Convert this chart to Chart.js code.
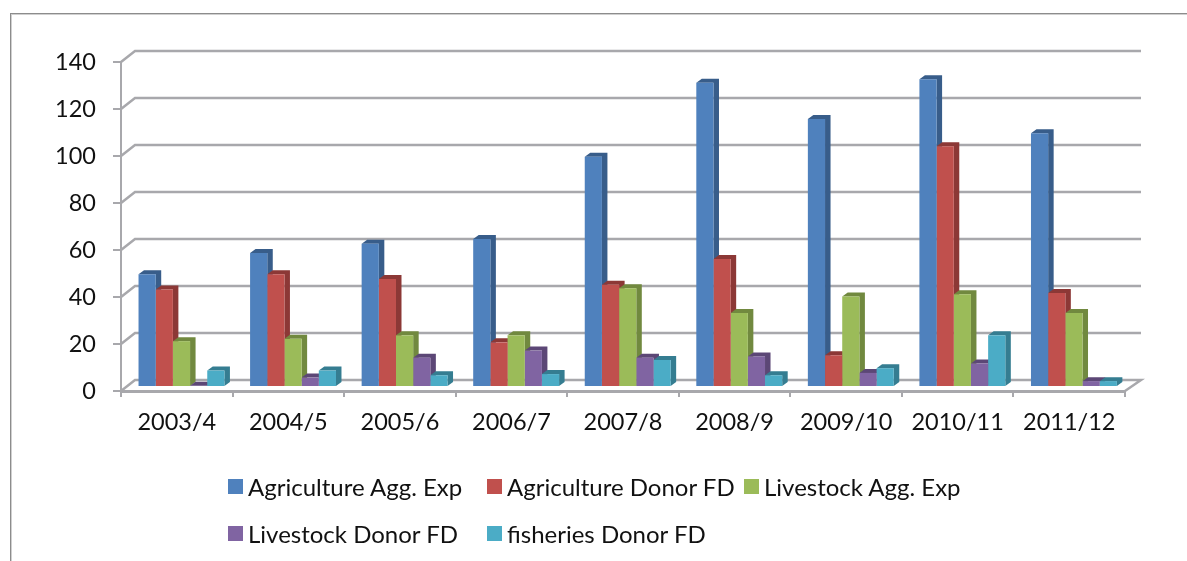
<!DOCTYPE html>
<html>
<head>
<meta charset="utf-8">
<title>Agriculture expenditure</title>
<script src="https://cdn.jsdelivr.net/npm/chart.js@4"></script>
<style>
  html, body { margin: 0; padding: 0; background: #fff; }
  #wrap { position: relative; width: 1187px; height: 561px; overflow: hidden; }
  #frame { position: absolute; left: 10px; top: 13px; right: -2px; bottom: -2px; border: 1px solid #8c8c8c; border-width: 1px 0 0 1px; box-shadow: inset 1px 1px 0 #d0d0d0; }
  canvas { position: absolute; left: 0; top: 0; }
  #legend { position: absolute; left: 228px; top: 463px; display: grid; grid-template-columns: 259px 257px 259px; grid-auto-rows: 47px; margin: 0; padding: 0; list-style: none;
    font: 24px Lato, sans-serif; color: #111; }
  #legend li { display: flex; align-items: center; white-space: nowrap; }
  #legend i { display: block; width: 15px; height: 15px; margin-right: 5px; }
</style>
</head>
<body>
<div id="wrap">
  <div id="frame"></div>
  <canvas id="chart" width="1187" height="561"></canvas>
  <ul id="legend"></ul>
</div>
<script>
const categories = ['2003/4', '2004/5', '2005/6', '2006/7', '2007/8', '2008/9', '2009/10', '2010/11', '2011/12'];
const seriesNames = ['Agriculture Agg. Exp', 'Agriculture Donor FD', 'Livestock Agg. Exp', 'Livestock Donor FD', 'fisheries Donor FD'];

const agricultureAgg = [48, 57, 61, 63, 98, 129.5, 114, 131, 108];
const agricultureDonor = [41.5, 48, 46, 19, 43.5, 54.5, 13.5, 102.5, 40];
const livestockAgg = [19.5, 20.5, 22, 22, 42, 31.5, 38.5, 39.5, 31.5];
const livestockDonor = [0.5, 4, 12.5, 15.5, 12.5, 13, 6, 10, 2.5];
const fisheriesDonor = [7, 7, 5, 5.5, 11.5, 5, 8, 22, 2.5];

const seriesValues = [agricultureAgg, agricultureDonor, livestockAgg, livestockDonor, fisheriesDonor];
const frontColors = ['#4f81bd', '#c0504d', '#9bbb59', '#8064a2', '#4bacc6'];
const sideColors = ['#385d8a', '#8c3836', '#71893f', '#5c4776', '#357d91'];

const axisColor = '#a8a8ac';
// how far the back wall sits from the front of the box
const wallLeft = 14, wallRight = 16, wallY = 11;
// bars stand a little inside the floor, and their own depth
const barShiftX = 4.7, barShiftY = 4;
const barDepthX = 5.5, barDepthY = 4;

// back wall lines and the floor, drawn from the y scale ticks
const wallPlugin = {
  id: 'wall',
  beforeDatasetsDraw(chart) {
    const { ctx, chartArea, scales } = chart;
    ctx.save();
    ctx.strokeStyle = axisColor;
    ctx.lineWidth = 2.5;
    scales.y.ticks.forEach(t => {
      const y = scales.y.getPixelForValue(t.value);
      ctx.beginPath();
      ctx.moveTo(chartArea.left, y);
      ctx.lineTo(chartArea.left + wallLeft, y - wallY);
      ctx.lineTo(chartArea.right + wallRight, y - wallY);
      if (t.value === 0) ctx.lineTo(chartArea.right, y);
      ctx.stroke();
    });
    ctx.restore();
  }
};

// fake 3D: all side and top faces go down first, left series first,
// then the library draws the fronts on top of them
const bar3dPlugin = {
  id: 'bar3d',
  beforeDatasetsDraw(chart) {
    const { ctx } = chart;
    ctx.save();
    ctx.translate(barShiftX, -barShiftY);
    seriesNames.forEach((name, i) => {
      ctx.fillStyle = sideColors[i];
      chart.getDatasetMeta(i).data.forEach(bar => {
        const { x, y, base, width } = bar.getProps(['x', 'y', 'base', 'width']);
        const l = x - width / 2, r = x + width / 2;
        ctx.beginPath();
        ctx.moveTo(l, y);
        ctx.lineTo(l + barDepthX, y - barDepthY);
        ctx.lineTo(r + barDepthX, y - barDepthY);
        ctx.lineTo(r + barDepthX, base - barDepthY);
        ctx.lineTo(r, base);
        ctx.lineTo(r, y);
        ctx.closePath();
        ctx.fill();
      });
    });
    ctx.restore();
  },
  beforeDatasetDraw(chart) {
    chart.ctx.save();
    chart.ctx.translate(barShiftX, -barShiftY);
  },
  afterDatasetDraw(chart) {
    chart.ctx.restore();
  }
};

// legend sits in fixed columns, which the built-in one can't do
const htmlLegendPlugin = {
  id: 'htmlLegend',
  afterUpdate(chart) {
    const ul = document.getElementById('legend');
    ul.innerHTML = '';
    chart.options.plugins.legend.labels.generateLabels(chart).forEach(item => {
      const li = document.createElement('li');
      const box = document.createElement('i');
      box.style.background = item.fillStyle;
      li.appendChild(box);
      li.appendChild(document.createTextNode(item.text));
      ul.appendChild(li);
    });
  }
};

new Chart(document.getElementById('chart'), {
  type: 'bar',
  data: {
    labels: categories,
    datasets: seriesNames.map((name, i) => ({
      label: name,
      data: seriesValues[i],
      backgroundColor: frontColors[i],
      clip: false,
      categoryPercentage: 0.77,
      barPercentage: 1
    }))
  },
  options: {
    responsive: false,
    animation: false,
    layout: { padding: { left: 0, right: 62, top: 62, bottom: 0 } },
    plugins: {
      legend: { display: false },
      tooltip: { enabled: false }
    },
    scales: {
      x: {
        afterFit(scale) { scale.height = 170; },
        grid: { drawOnChartArea: false, color: axisColor, lineWidth: 2, tickLength: 6 },
        border: { color: axisColor, width: 3 },
        ticks: { color: '#111', font: { family: 'Lato', size: 23.5 }, padding: 11, maxRotation: 0, autoSkip: false }
      },
      y: {
        min: 0,
        max: 140,
        afterFit(scale) { scale.width = 121; },
        grid: { drawOnChartArea: false, color: axisColor, lineWidth: 2, tickLength: 8 },
        border: { color: axisColor, width: 2 },
        ticks: { stepSize: 20, color: '#111', font: { family: 'Lato', size: 23.5 }, padding: 17 }
      }
    }
  },
  plugins: [wallPlugin, bar3dPlugin, htmlLegendPlugin]
});
</script>
</body>
</html>
